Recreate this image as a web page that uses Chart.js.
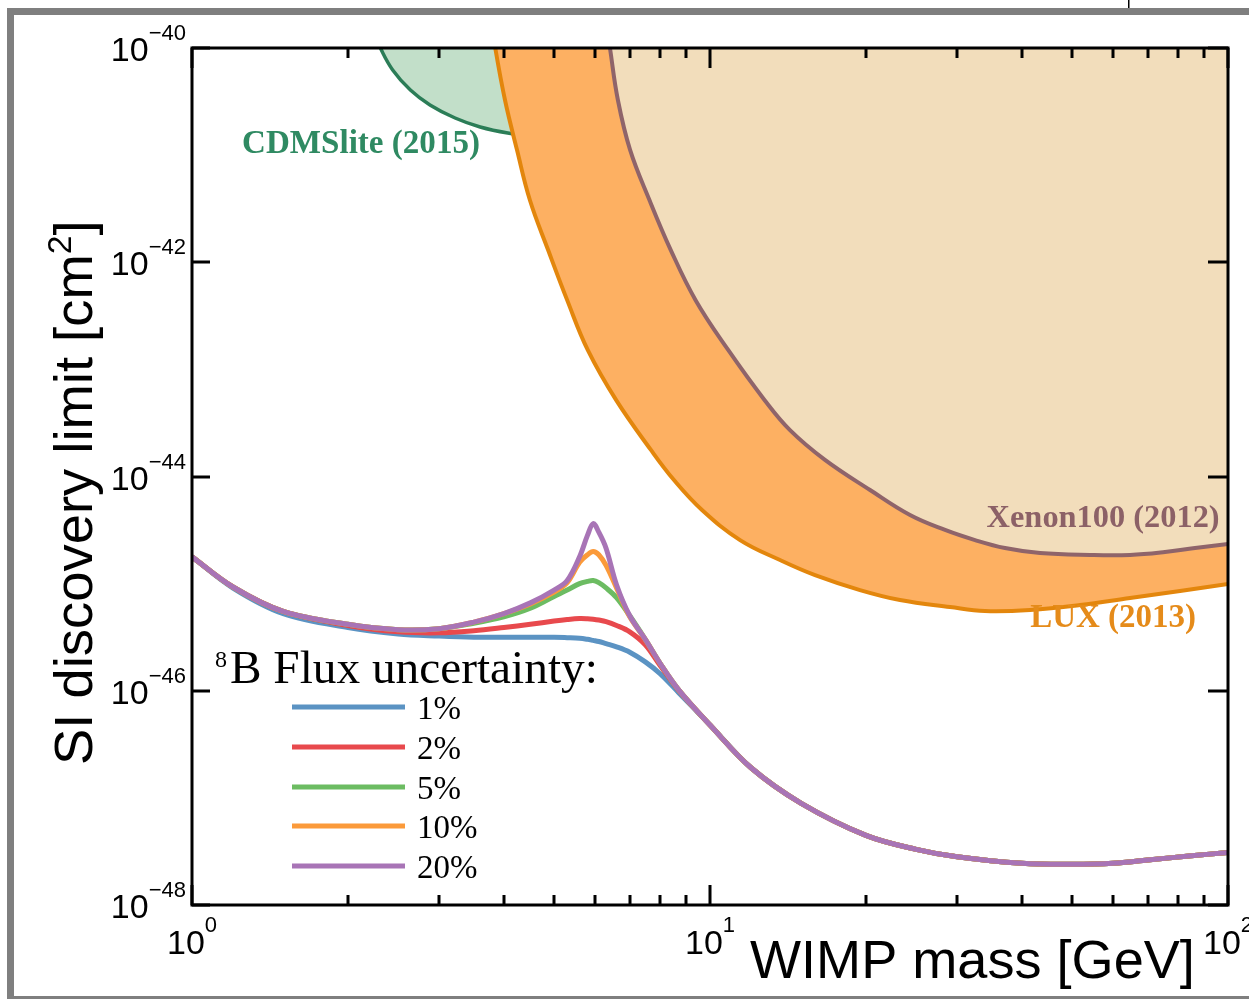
<!DOCTYPE html>
<html>
<head>
<meta charset="utf-8">
<script src="https://cdn.jsdelivr.net/npm/chart.js@4.4.1/dist/chart.umd.min.js"></script>
<style>
  html, body { margin: 0; padding: 0; background: #ffffff; }
  #wrap { width: 1249px; height: 999px; position: relative; }
</style>
</head>
<body>
<div id="wrap"><canvas id="c" width="1249" height="999"></canvas></div>
<script>
// WIMP masses [GeV] shared by the discovery-limit curves
const massGrid = [1, 1.2, 1.5, 2, 2.5, 3, 3.5, 4, 4.5, 5, 5.3, 5.6, 5.8, 5.95, 6.1, 6.3, 6.6, 7, 7.5, 8, 8.7,
                  10, 12, 15, 20, 25, 30, 40, 50, 60, 70, 85, 100];

// SI discovery limits [cm^2] for each 8B flux uncertainty
const limit1pct  = [1.78e-45, 9.1e-46, 5.25e-46, 3.89e-46, 3.39e-46, 3.24e-46, 3.16e-46, 3.16e-46, 3.16e-46, 3.16e-46, 3.13e-46,
                    3.09e-46, 3.02e-46, 2.95e-46, 2.88e-46, 2.75e-46, 2.57e-46, 2.29e-46, 1.86e-46, 1.45e-46, 9.6e-47,
                    4.79e-47, 1.91e-47, 8.9e-48, 4.47e-48, 3.31e-48, 2.82e-48, 2.45e-48, 2.40e-48, 2.45e-48, 2.63e-48, 2.88e-48, 3.09e-48];
const limit2pct  = [1.78e-45, 9.3e-46, 5.5e-46, 4.07e-46, 3.55e-46, 3.47e-46, 3.63e-46, 3.89e-46, 4.17e-46, 4.47e-46, 4.62e-46,
                    4.72e-46, 4.70e-46, 4.65e-46, 4.57e-46, 4.42e-46, 4.07e-46, 3.55e-46, 2.69e-46, 1.74e-46, 1.01e-46,
                    4.79e-47, 1.91e-47, 8.9e-48, 4.47e-48, 3.31e-48, 2.82e-48, 2.45e-48, 2.40e-48, 2.45e-48, 2.63e-48, 2.88e-48, 3.09e-48];
const limit5pct  = [1.78e-45, 9.3e-46, 5.5e-46, 4.17e-46, 3.72e-46, 3.80e-46, 4.27e-46, 4.90e-46, 5.89e-46, 7.59e-46, 8.71e-46,
                    1.00e-45, 1.05e-45, 1.07e-45, 1.02e-45, 9.12e-46, 7.41e-46, 5.01e-46, 3.02e-46, 1.82e-46, 1.02e-46,
                    4.79e-47, 1.91e-47, 8.9e-48, 4.47e-48, 3.31e-48, 2.82e-48, 2.45e-48, 2.40e-48, 2.45e-48, 2.63e-48, 2.88e-48, 3.09e-48];
const limit10pct = [1.78e-45, 9.3e-46, 5.5e-46, 4.17e-46, 3.72e-46, 3.80e-46, 4.37e-46, 5.25e-46, 6.46e-46, 8.32e-46, 1.02e-45,
                    1.58e-45, 1.86e-45, 2.00e-45, 1.86e-45, 1.48e-45, 9.12e-46, 4.90e-46, 3.02e-46, 1.82e-46, 1.02e-46,
                    4.79e-47, 1.91e-47, 8.9e-48, 4.47e-48, 3.31e-48, 2.82e-48, 2.45e-48, 2.40e-48, 2.45e-48, 2.63e-48, 2.88e-48, 3.09e-48];
const limit20pct = [1.78e-45, 9.3e-46, 5.5e-46, 4.17e-46, 3.72e-46, 3.80e-46, 4.37e-46, 5.25e-46, 6.61e-46, 8.71e-46, 1.07e-45,
                    1.78e-45, 2.82e-45, 3.63e-45, 3.02e-45, 2.14e-45, 9.77e-46, 5.01e-46, 3.02e-46, 1.82e-46, 1.02e-46,
                    4.79e-47, 1.91e-47, 8.9e-48, 4.47e-48, 3.31e-48, 2.82e-48, 2.45e-48, 2.40e-48, 2.45e-48, 2.63e-48, 2.88e-48, 3.09e-48];
const uncertaintyLabels = ['1%', '2%', '5%', '10%', '20%'];

// Published exclusion limits
const cdmsMass  = [2.23, 2.31, 2.44, 2.64, 2.88, 3.22, 3.60, 4.07, 4.70];
const cdmsLimit = [1.47e-40, 1.0e-40, 6.24e-41, 4.05e-41, 2.94e-41, 2.22e-41, 1.83e-41, 1.61e-41, 1.48e-41];

const luxMass  = [3.79, 3.85, 4.02, 4.24, 4.49, 4.87, 5.30, 5.81, 6.59, 7.69, 8.52, 9.65, 11.43, 13.65, 15.95,
                  19.48, 23.27, 29.06, 33.95, 41.48, 51.81, 64.69, 80.80, 100];
const luxLimit = [1.75e-40, 1.0e-40, 3.27e-41, 1.12e-41, 3.81e-42, 1.30e-42, 4.43e-43, 1.51e-43, 5.16e-44, 1.77e-44,
                  9.27e-45, 4.87e-45, 2.55e-45, 1.66e-45, 1.20e-45, 8.71e-46, 7.03e-46, 6.05e-46, 5.56e-46, 5.68e-46,
                  6.31e-46, 7.34e-46, 8.53e-46, 9.93e-46];

const xenonMass  = [6.30, 6.41, 6.64, 7.01, 7.64, 8.40, 9.38, 10.85, 12.75, 14.27, 16.67, 20.37, 24.33, 28.43, 32.48,
                    37.11, 43.37, 54.15, 64.69, 75.55, 86.37, 100];
const xenonLimit = [1.75e-40, 1.0e-40, 3.27e-41, 1.12e-41, 3.81e-42, 1.30e-42, 4.43e-43, 1.51e-43, 5.16e-44, 2.71e-44,
                    1.43e-44, 7.48e-45, 4.37e-45, 3.17e-45, 2.55e-45, 2.15e-45, 1.93e-45, 1.85e-45, 1.85e-45, 1.97e-45,
                    2.15e-45, 2.34e-45];

// Axis ticks
const xMajorTicks = [1, 10, 100];
const xMinorTicks = [2, 3, 4, 5, 6, 7, 8, 9, 20, 30, 40, 50, 60, 70, 80, 90];
const xTickExponents = ['0', '1', '2'];
const yTicks = [1e-40, 1e-42, 1e-44, 1e-46, 1e-48];
const yTickExponents = ['\u221240', '\u221242', '\u221244', '\u221246', '\u221248'];

// Experiment names, placed at (mass, cross section)
const regionLabels = [
  { text: 'CDMSlite (2015)', mass: 2.12, sigma: 1.25e-41, color: '#2f8a62', width: 238 },
  { text: 'Xenon100 (2012)', mass: 57.4, sigma: 4.0e-45,  color: '#8c6167', width: 233 },
  { text: 'LUX (2013)',      mass: 60.0, sigma: 4.7e-46,  color: '#e58b1a', width: 166 }
];

const SANS = '"Liberation Sans", Arial, Helvetica, sans-serif';
const SERIF = '"Liberation Serif", "Times New Roman", serif';

function pts(xs, ys) { return xs.map((x, i) => ({ x: x, y: ys[i] })); }

const seriesColors = ['#5b93c3', '#e8494d', '#6cbc62', '#fb9a3a', '#a874b6'];
const seriesData = [limit1pct, limit2pct, limit5pct, limit10pct, limit20pct];

const discoverySets = seriesData.map((vals, i) => ({
  label: uncertaintyLabels[i],
  data: pts(massGrid, vals),
  borderColor: seriesColors[i],
  borderWidth: 5,
  pointRadius: 0,
  fill: false,
  tension: 0.35,
  order: 5 - i,
  isDiscovery: true
}));

const exclusionSets = [
  { label: 'Xenon100 (2012)', data: pts(xenonMass, xenonLimit), borderColor: '#8f646a', backgroundColor: '#f2ddbb',
    borderWidth: 4, pointRadius: 0, fill: 'end', tension: 0.4, order: 6 },
  { label: 'LUX (2013)', data: pts(luxMass, luxLimit), borderColor: '#e3860c', backgroundColor: '#fdb062',
    borderWidth: 4, pointRadius: 0, fill: 'end', tension: 0.4, order: 7 },
  { label: 'CDMSlite (2015)', data: pts(cdmsMass, cdmsLimit), borderColor: '#2b7d57', backgroundColor: '#c2dfc9',
    borderWidth: 3.5, pointRadius: 0, fill: 'end', tension: 0.4, order: 8 }
];

function fitFont(ctx, text, weight, family, target) {
  ctx.font = weight + ' 100px ' + family;
  const w = ctx.measureText(text).width;
  return 100 * target / w;
}

// "10" with a raised exponent; anchor = 'right' or 'center'
function drawPower(ctx, exp, x, baseY, supY, anchor) {
  ctx.font = '34px ' + SANS;
  const wBase = ctx.measureText('10').width;
  ctx.font = '22px ' + SANS;
  const wExp = ctx.measureText(exp).width;
  const total = wBase + wExp;
  let x0 = anchor === 'right' ? x - total : x - total / 2;
  ctx.textAlign = 'left';
  ctx.textBaseline = 'alphabetic';
  ctx.fillStyle = '#000';
  ctx.font = '34px ' + SANS;
  ctx.fillText('10', x0, baseY);
  ctx.font = '22px ' + SANS;
  ctx.fillText(exp, x0 + wBase, supY);
}

const decorPlugin = {
  id: 'decor',
  beforeDraw(chart) {
    const ctx = chart.ctx;
    ctx.save();
    ctx.fillStyle = '#ffffff';
    ctx.fillRect(0, 0, chart.width, chart.height);
    // grey outer frame
    ctx.fillStyle = '#7f7f7f';
    ctx.fillRect(7, 8, chart.width - 7, 7);
    ctx.fillRect(7, 8, 7, chart.height - 8);
    ctx.fillRect(7, chart.height - 3, chart.width - 7, 3);
    ctx.fillStyle = '#000';
    ctx.fillRect(1128, 0, 1.5, 8);
    ctx.restore();
  },
  afterDatasetsDraw(chart) {
    const ctx = chart.ctx;
    const xs = chart.scales.x, ys = chart.scales.y;
    ctx.save();
    regionLabels.forEach(l => {
      const size = fitFont(ctx, l.text, 'bold', SERIF, l.width);
      ctx.font = 'bold ' + size.toFixed(1) + 'px ' + SERIF;
      ctx.fillStyle = l.color;
      ctx.textAlign = 'center';
      ctx.textBaseline = 'middle';
      ctx.fillText(l.text, xs.getPixelForValue(l.mass), ys.getPixelForValue(l.sigma));
    });
    ctx.restore();
  },
  afterDraw(chart) {
    const ctx = chart.ctx;
    const ca = chart.chartArea;
    const xs = chart.scales.x, ys = chart.scales.y;
    ctx.save();
    // plot frame
    ctx.strokeStyle = '#000';
    ctx.lineWidth = 3;
    ctx.strokeRect(ca.left, ca.top, ca.right - ca.left, ca.bottom - ca.top);

    // inward tick marks on all four sides
    ctx.lineWidth = 3;
    ctx.beginPath();
    const xTick = (v, len) => {
      const px = Math.round(xs.getPixelForValue(v));
      ctx.moveTo(px, ca.bottom); ctx.lineTo(px, ca.bottom - len);
      ctx.moveTo(px, ca.top); ctx.lineTo(px, ca.top + len);
    };
    xMajorTicks.forEach(v => xTick(v, 20));
    xMinorTicks.forEach(v => xTick(v, 10));
    yTicks.forEach(v => {
      const py = Math.round(ys.getPixelForValue(v));
      ctx.moveTo(ca.left, py); ctx.lineTo(ca.left + 18, py);
      ctx.moveTo(ca.right, py); ctx.lineTo(ca.right - 20, py);
    });
    ctx.stroke();

    // tick labels
    yTicks.forEach((v, i) => {
      const py = ys.getPixelForValue(v);
      drawPower(ctx, yTickExponents[i], ca.left - 6, py + 13, py - 8, 'right');
    });
    xMajorTicks.forEach((v, i) => {
      const px = xs.getPixelForValue(v);
      drawPower(ctx, xTickExponents[i], px, ca.bottom + 49, ca.bottom + 27, 'center');
    });

    // x-axis title
    ctx.fillStyle = '#000';
    ctx.textAlign = 'left';
    ctx.textBaseline = 'alphabetic';
    const xTitle = 'WIMP mass [GeV]';
    const xSize = fitFont(ctx, xTitle, 'normal', SANS, 445);
    ctx.font = xSize.toFixed(1) + 'px ' + SANS;
    ctx.fillText(xTitle, 750, 978);

    // y-axis title with superscript
    const yMain = 'SI discovery limit [cm';
    ctx.font = '100px ' + SANS;
    const wMain100 = ctx.measureText(yMain).width;
    const wClose100 = ctx.measureText(']').width;
    ctx.font = '62px ' + SANS;
    const wSup100 = ctx.measureText('2').width;
    const ySize = 100 * 545 / (wMain100 + wClose100 + wSup100);
    ctx.save();
    ctx.translate(92, 765);
    ctx.rotate(-Math.PI / 2);
    ctx.font = ySize.toFixed(1) + 'px ' + SANS;
    ctx.fillText(yMain, 0, 0);
    const wm = ctx.measureText(yMain).width;
    ctx.font = (ySize * 0.62).toFixed(1) + 'px ' + SANS;
    ctx.fillText('2', wm, -ySize * 0.38);
    const ws = ctx.measureText('2').width;
    ctx.font = ySize.toFixed(1) + 'px ' + SANS;
    ctx.fillText(']', wm + ws, 0);
    ctx.restore();

    // legend
    ctx.fillStyle = '#000';
    ctx.textAlign = 'left';
    ctx.textBaseline = 'alphabetic';
    ctx.font = '24px ' + SERIF;
    ctx.fillText('8', ca.left + 23, 667);
    const head = 'B Flux uncertainty:';
    const hSize = fitFont(ctx, head, 'normal', SERIF, 368);
    ctx.font = hSize.toFixed(1) + 'px ' + SERIF;
    ctx.fillText(head, ca.left + 38, 683);
    const rowY = [707, 747, 787, 826, 866];
    chart.data.datasets.filter(d => d.isDiscovery).forEach((d, i) => {
      ctx.strokeStyle = d.borderColor;
      ctx.lineWidth = 5;
      ctx.beginPath();
      ctx.moveTo(ca.left + 100, rowY[i]);
      ctx.lineTo(ca.left + 213, rowY[i]);
      ctx.stroke();
      ctx.fillStyle = '#000';
      ctx.font = '33px ' + SERIF;
      ctx.fillText(d.label, ca.left + 225, rowY[i] + 12);
    });
    ctx.restore();
  }
};

new Chart(document.getElementById('c'), {
  type: 'line',
  data: { datasets: [...discoverySets, ...exclusionSets] },
  options: {
    responsive: false,
    animation: false,
    devicePixelRatio: 1,
    layout: { padding: { left: 192, top: 48, right: 21, bottom: 94 } },
    scales: {
      x: { type: 'logarithmic', min: 1, max: 100, display: false },
      y: { type: 'logarithmic', min: 1e-48, max: 1e-40, display: false }
    },
    plugins: {
      legend: { display: false },
      tooltip: { enabled: false },
      title: { display: false }
    },
    elements: { line: { capBezierPoints: true } }
  },
  plugins: [decorPlugin]
});
</script>
</body>
</html>
